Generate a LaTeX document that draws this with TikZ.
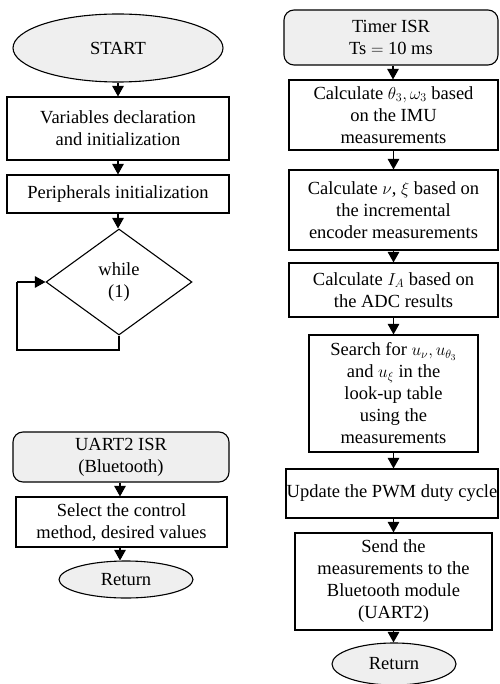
\documentclass[tikz,border=0pt]{standalone}
\usepackage{fontspec}
\setmainfont{Liberation Serif}
\usetikzlibrary{shapes.geometric,arrows.meta}
\definecolor{termfill}{HTML}{EFEFEF}
\begin{document}
\begin{tikzpicture}[x=1pt,y=-1pt,
  every node/.style={font=\fontsize{18.5}{22}\selectfont, align=center, inner sep=0pt, line width=1.1pt},
  proc/.style={draw, rectangle},
  term/.style={draw, ellipse, fill=termfill},
  isr/.style={draw, rectangle, rounded corners=10pt, fill=termfill},
  cond/.style={draw, diamond},
  flow/.style={draw, line width=1.1pt, -{Triangle[width=11.5pt,length=10.5pt]}},
  line/.style={draw, line width=1.1pt}
]
\useasboundingbox (0,0) rectangle (499,684);

% left column
\node[term, minimum width=210pt, minimum height=68pt] (start) at (118,48) {START};
\node[proc, minimum width=222pt, minimum height=63pt] (var) at (118,128.5) {Variables declaration\\and initialization};
\node[proc, minimum width=222pt, minimum height=38pt] (peri) at (118,194) {Peripherals initialization};
\node[cond, minimum width=146pt, minimum height=106pt] (wh) at (119,282) {while\\(1)};
\coordinate (lb) at (119,350);
\coordinate (ll) at (17,350);
\coordinate (lt) at (17,282);

\node[isr, minimum width=216pt, minimum height=50pt] (uart) at (121,457) {UART2 ISR\\(Bluetooth)};
\node[proc, minimum width=211pt, minimum height=50pt] (sel) at (121.5,522) {Select the control\\method, desired values};
\node[term, minimum width=134pt, minimum height=37pt] (ret1) at (126,579.5) {Return};

\path[flow] (start.south) -- (start.south |- var.north);
\path[flow] (var.south) -- (var.south |- peri.north);
\path[flow] (peri.south) -- (peri.south |- wh.north);
\path[line] (wh.south) -- (lb) -- (ll) -- (lt);
\path[flow] (lt) -- (wh.west);
\path[flow] ([xshift=-1pt]uart.south) -- ([xshift=-1pt]uart.south |- sel.north);
\path[flow] ([xshift=-1.5pt]sel.south) -- ([xshift=-1.5pt]sel.south |- ret1.north);

% right column
\node[isr, minimum width=214pt, minimum height=55pt] (timer) at (391,37.5) {Timer ISR\\Ts $=$ 10 ms};
\node[proc, minimum width=209pt, minimum height=70pt] (c1) at (393.5,115) {Calculate $\theta_3,\omega_3$ based\\on the IMU\\measurements};
\node[proc, minimum width=209pt, minimum height=80pt] (c2) at (393.5,210) {Calculate $\nu$, $\xi$ based on\\the incremental\\encoder measurements};
\node[proc, minimum width=209pt, minimum height=54pt] (c3) at (393.5,290) {Calculate $I_A$ based on\\the ADC results};
\node[proc, minimum width=169pt, minimum height=117pt] (search) at (393.5,393.5) {Search for $u_\nu, u_{\theta_3}$\\and $u_\xi$ in the\\look-up table\\using the\\measurements};
\node[proc, minimum width=212pt, minimum height=49pt] (pwm) at (392,493.5) {Update the PWM duty cycle};
\node[proc, minimum width=197pt, minimum height=97pt] (send) at (393.5,581.5) {Send the\\measurements to the\\Bluetooth module\\(UART2)};
\node[term, minimum width=124pt, minimum height=42pt] (ret2) at (394,664) {Return};

\path[flow] ([xshift=2pt]timer.south) -- ([xshift=2pt]timer.south |- c1.north);
\path[flow] (c1.south) -- (c1.south |- c2.north);
\path[flow] (c2.south) -- (c2.south |- c3.north);
\path[flow] (c3.south) -- (c3.south |- search.north);
\path[flow] (search.south) -- (search.south |- pwm.north);
\path[flow] ([xshift=1.5pt]pwm.south) -- ([xshift=1.5pt]pwm.south |- send.north);
\path[flow] (send.south) -- (send.south |- ret2.north);
\end{tikzpicture}
\end{document}
